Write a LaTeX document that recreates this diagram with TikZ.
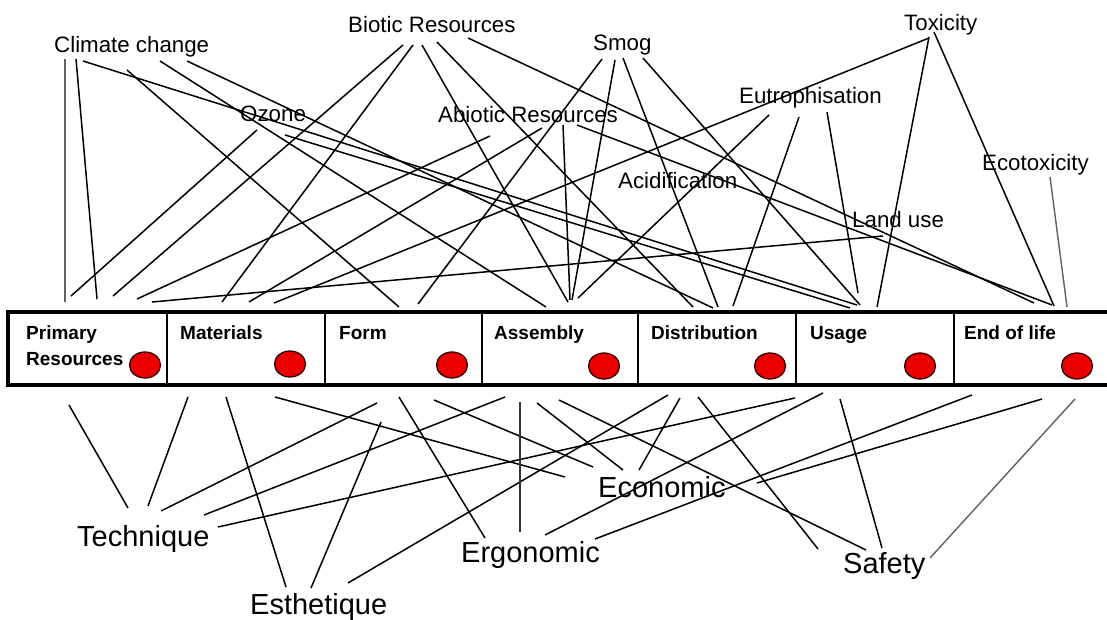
\documentclass[tikz,border=0pt]{standalone}
\usepackage{fontspec}
\setmainfont{Liberation Sans}
\usetikzlibrary{shapes.geometric}
\begin{document}
\begin{tikzpicture}[x=1pt,y=-1pt,
  link/.style={line width=1.5pt, black},
  greylink/.style={line width=1.8pt, black!62},
  toplabel/.style={anchor=base west, inner sep=0pt, font=\fontsize{22.3}{24}\selectfont},
  botlabel/.style={anchor=base west, inner sep=0pt, font=\fontsize{29}{30}\selectfont},
  cell/.style={draw, line width=1.3pt, minimum height=73pt, inner sep=0pt, outer sep=0pt, anchor=north west},
  celltext/.style={anchor=base west, inner sep=0pt, align=left, font=\fontsize{19}{26}\selectfont\bfseries},
  dot/.style={ellipse, draw=black!80!red, line width=1.3pt, fill=red!92!black, minimum width=31pt, minimum height=26pt, inner sep=0pt}
]
\useasboundingbox (0,0) rectangle (1107,620);

% life-cycle stages
\node[cell, minimum width=159pt] (primary)      at (8,312)   {};
\node[cell, minimum width=158pt] (materials)    at (167,312) {};
\node[cell, minimum width=157pt] (form)         at (325,312) {};
\node[cell, minimum width=156pt] (assembly)     at (482,312) {};
\node[cell, minimum width=158pt] (distribution) at (638,312) {};
\node[cell, minimum width=158pt] (usage)        at (796,312) {};
\node[cell, minimum width=170pt] (endlife)      at (954,312) {};
\draw[line width=3.2pt] (1115,312) -- (8,312) -- (8,385) -- (1115,385);

\node[celltext] (tprimary) at (26,365) {Primary\\Resources};
\node[celltext] (tmaterials) at (180,339) {Materials};
\node[celltext] (tform) at (339,339) {Form};
\node[celltext] (tassembly) at (494,339) {Assembly};
\node[celltext] (tdistribution) at (651,339) {Distribution};
\node[celltext] (tusage) at (810,339) {Usage};
\node[celltext] (tendlife) at (964,339) {End of life};

\node[dot] (d1) at (145,365) {};
\node[dot] (d2) at (290,364) {};
\node[dot] (d3) at (452,365) {};
\node[dot] (d4) at (604,366) {};
\node[dot] (d5) at (770,366) {};
\node[dot] (d6) at (920,366) {};
\node[dot] (d7) at (1077,366) {};

% impact categories
\node[toplabel] (climate)  at (54,53)   {Climate change};
\node[toplabel] (biotic)   at (348,33)  {Biotic Resources};
\node[toplabel] (smog)     at (593,51)  {Smog};
\node[toplabel] (toxicity) at (904,31)  {Toxicity};
\node[toplabel] (ozone)    at (240,122) {Ozone};
\node[toplabel] (abiotic)  at (438,123) {Abiotic Resources};
\node[toplabel] (eutro)    at (739,104) {Eutrophisation};
\node[toplabel] (acid)     at (618,189) {Acidification};
\node[toplabel] (ecotox)   at (982,171) {Ecotoxicity};
\node[toplabel] (landuse)  at (852,228) {Land use};

% design criteria
\node[botlabel] (technique)  at (77,546)  {Technique};
\node[botlabel] (esthetique) at (250,614) {Esthetique};
\node[botlabel] (ergonomic)  at (461,562) {Ergonomic};
\node[botlabel] (economic)   at (598,497) {Economic};
\node[botlabel] (safety)     at (843,573) {Safety};

% links from the impact categories down to the stages
\foreach \k/\ax/\ay/\bx/\by in {
  2/76/59/97/299, 3/83/61/857/305, 4/127/70/399/307, 5/160/61/546/307, 6/187/61/713/308,
  7/403/45/113/296, 8/413/45/222/302, 9/422/45/568/302, 10/437/42/693/307, 11/468/38/1034/303,
  12/602/59/418/304, 13/615/60/572/300, 14/623/58/718/307, 15/643/58/860/305,
  16/490/136/137/299, 17/542/128/249/302, 18/563/125/570/300, 19/577/125/1052/305,
  20/257/130/71/296, 21/285/135/850/308,
  22/769/115/578/298, 23/799/117/733/306, 24/827/112/858/293,
  25/929/38/274/303, 26/929/37/877/307, 27/934/32/1054/306,
  29/883/236/152/302}
{
  \coordinate (ta\k) at (\ax,\ay);
  \coordinate (tb\k) at (\bx,\by);
  \draw[link] (ta\k) -- (tb\k);
}
\coordinate (ta1) at (65,59);
\coordinate (tb1) at (65,302);
\draw[greylink] (ta1) -- (tb1);
\coordinate (ta28) at (1050,177);
\coordinate (tb28) at (1067,307);
\draw[greylink, line width=1.4pt] (ta28) -- (tb28);

% links from the stages down to the design criteria
\foreach \k/\ax/\ay/\bx/\by in {
  1/69/405/128/508, 2/188/397/148/506, 3/226/397/286/587, 4/275/397/565/477,
  5/377/403/161/511, 6/381/422/311/588, 7/399/397/485/538, 8/434/400/593/467,
  9/505/397/204/515, 11/537/403/623/470, 12/559/400/866/550,
  13/668/395/348/583, 14/680/398/639/470, 15/698/397/818/549,
  16/795/398/218/527, 17/823/393/545/535, 18/840/399/882/548,
  19/972/395/595/539, 20/1042/399/757/483}
{
  \coordinate (ba\k) at (\ax,\ay);
  \coordinate (bb\k) at (\bx,\by);
  \draw[link] (ba\k) -- (bb\k);
}
\coordinate (ba10) at (520,402);
\coordinate (bb10) at (520,532);
\draw[link, black!80] (ba10) -- (bb10);
\coordinate (ba21) at (1075,399);
\coordinate (bb21) at (930,558);
\draw[greylink, line width=1.4pt] (ba21) -- (bb21);
\end{tikzpicture}
\end{document}
